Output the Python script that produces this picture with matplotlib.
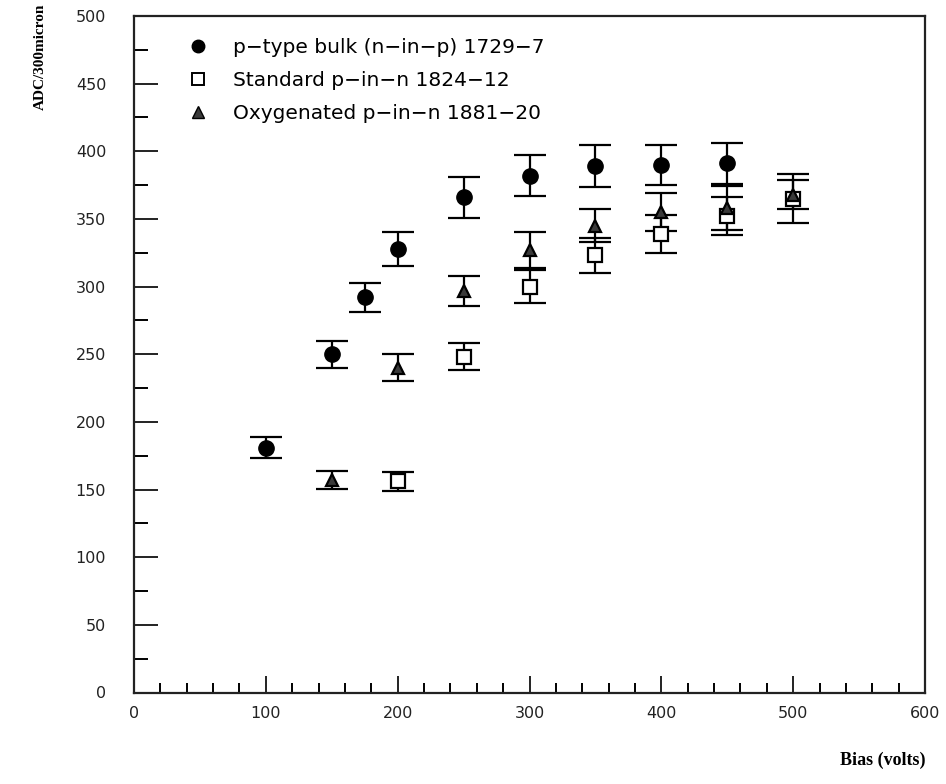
import matplotlib
matplotlib.use("Agg")
import matplotlib.pyplot as plt
from matplotlib.lines import Line2D
from matplotlib.ticker import MultipleLocator

# Data
bias_p = [100, 150, 175, 200, 250, 300, 350, 400, 450]
adc_p = [181, 250, 292, 328, 366, 382, 389, 390, 391]
err_p = [7.5, 10, 11, 12.5, 15, 15, 15.5, 15, 15.5]

bias_s = [200, 250, 300, 350, 400, 450, 500]
adc_s = [156, 248, 300, 323, 339, 352, 365]
err_s = [7, 10, 12, 13, 14, 14, 18]

bias_o = [150, 200, 250, 300, 350, 400, 450, 500]
adc_o = [157, 240, 297, 327, 345, 355, 358, 368]
err_o = [6.5, 10, 11, 13, 12, 14, 16, 11]

labels = ["p\u2212type bulk (n\u2212in\u2212p) 1729\u22127",
          "Standard p\u2212in\u2212n 1824\u221212",
          "Oxygenated p\u2212in\u2212n 1881\u221220"]

fig = plt.figure(figsize=(9.46, 7.84), dpi=100)
ax = fig.add_axes([134/946, 1-692.5/784, (925-134)/946, (692.5-16)/784])

ekw = dict(ecolor="black", elinewidth=1.6, capsize=11.5, capthick=1.6, linestyle="none")
ax.errorbar(bias_p, adc_p, yerr=err_p, marker="o", markersize=11, mfc="black", mec="black", **ekw)
ax.errorbar(bias_s, adc_s, yerr=err_s, marker="s", markersize=10.5, mfc="white", mec="black", mew=1.6, **ekw)
ax.errorbar(bias_o, adc_o, yerr=err_o, marker="^", markersize=9, mfc="#3a3a3a", mec="black", mew=1.6, **ekw)

ax.set_xlim(0, 600)
ax.set_ylim(0, 500)
ax.xaxis.set_major_locator(MultipleLocator(100))
ax.xaxis.set_minor_locator(MultipleLocator(20))
ax.yaxis.set_major_locator(MultipleLocator(50))
ax.yaxis.set_minor_locator(MultipleLocator(25))
ax.tick_params(axis="x", which="major", direction="in", length=12, width=1.4, pad=10, labelsize=11.5, colors="#222222")
ax.tick_params(axis="x", which="minor", direction="in", length=7, width=1.4)
ax.tick_params(axis="y", which="major", direction="in", length=17, width=1.4, pad=20, labelsize=11.5, colors="#222222")
ax.tick_params(axis="y", which="minor", direction="in", length=10, width=1.4)
ax.tick_params(top=False, right=False, which="both")
for s in ax.spines.values():
    s.set_linewidth(1.6)
    s.set_color("#222222")

handles = [Line2D([], [], marker="o", linestyle="none", markersize=9, mfc="black", mec="black"),
           Line2D([], [], marker="s", linestyle="none", markersize=9, mfc="white", mec="black", mew=1.4),
           Line2D([], [], marker="^", linestyle="none", markersize=8.5, mfc="#3a3a3a", mec="black")]
ax.legend(handles, labels, loc="upper left", bbox_to_anchor=(0.055, 0.982), frameon=False,
          fontsize=14.5, handlelength=1.0, handletextpad=1.25, labelspacing=0.7, borderpad=0)

fig.text(40/946, 1-57/784, "ADC/300micron", rotation=90, ha="center", va="center",
         family="Liberation Serif", fontweight="bold", fontsize=11)
fig.text(925/946, 1-760/784, "Bias (volts)", ha="right", va="center",
         family="Liberation Serif", fontweight="bold", fontsize=13)

fig.savefig("out.png", dpi=100)
